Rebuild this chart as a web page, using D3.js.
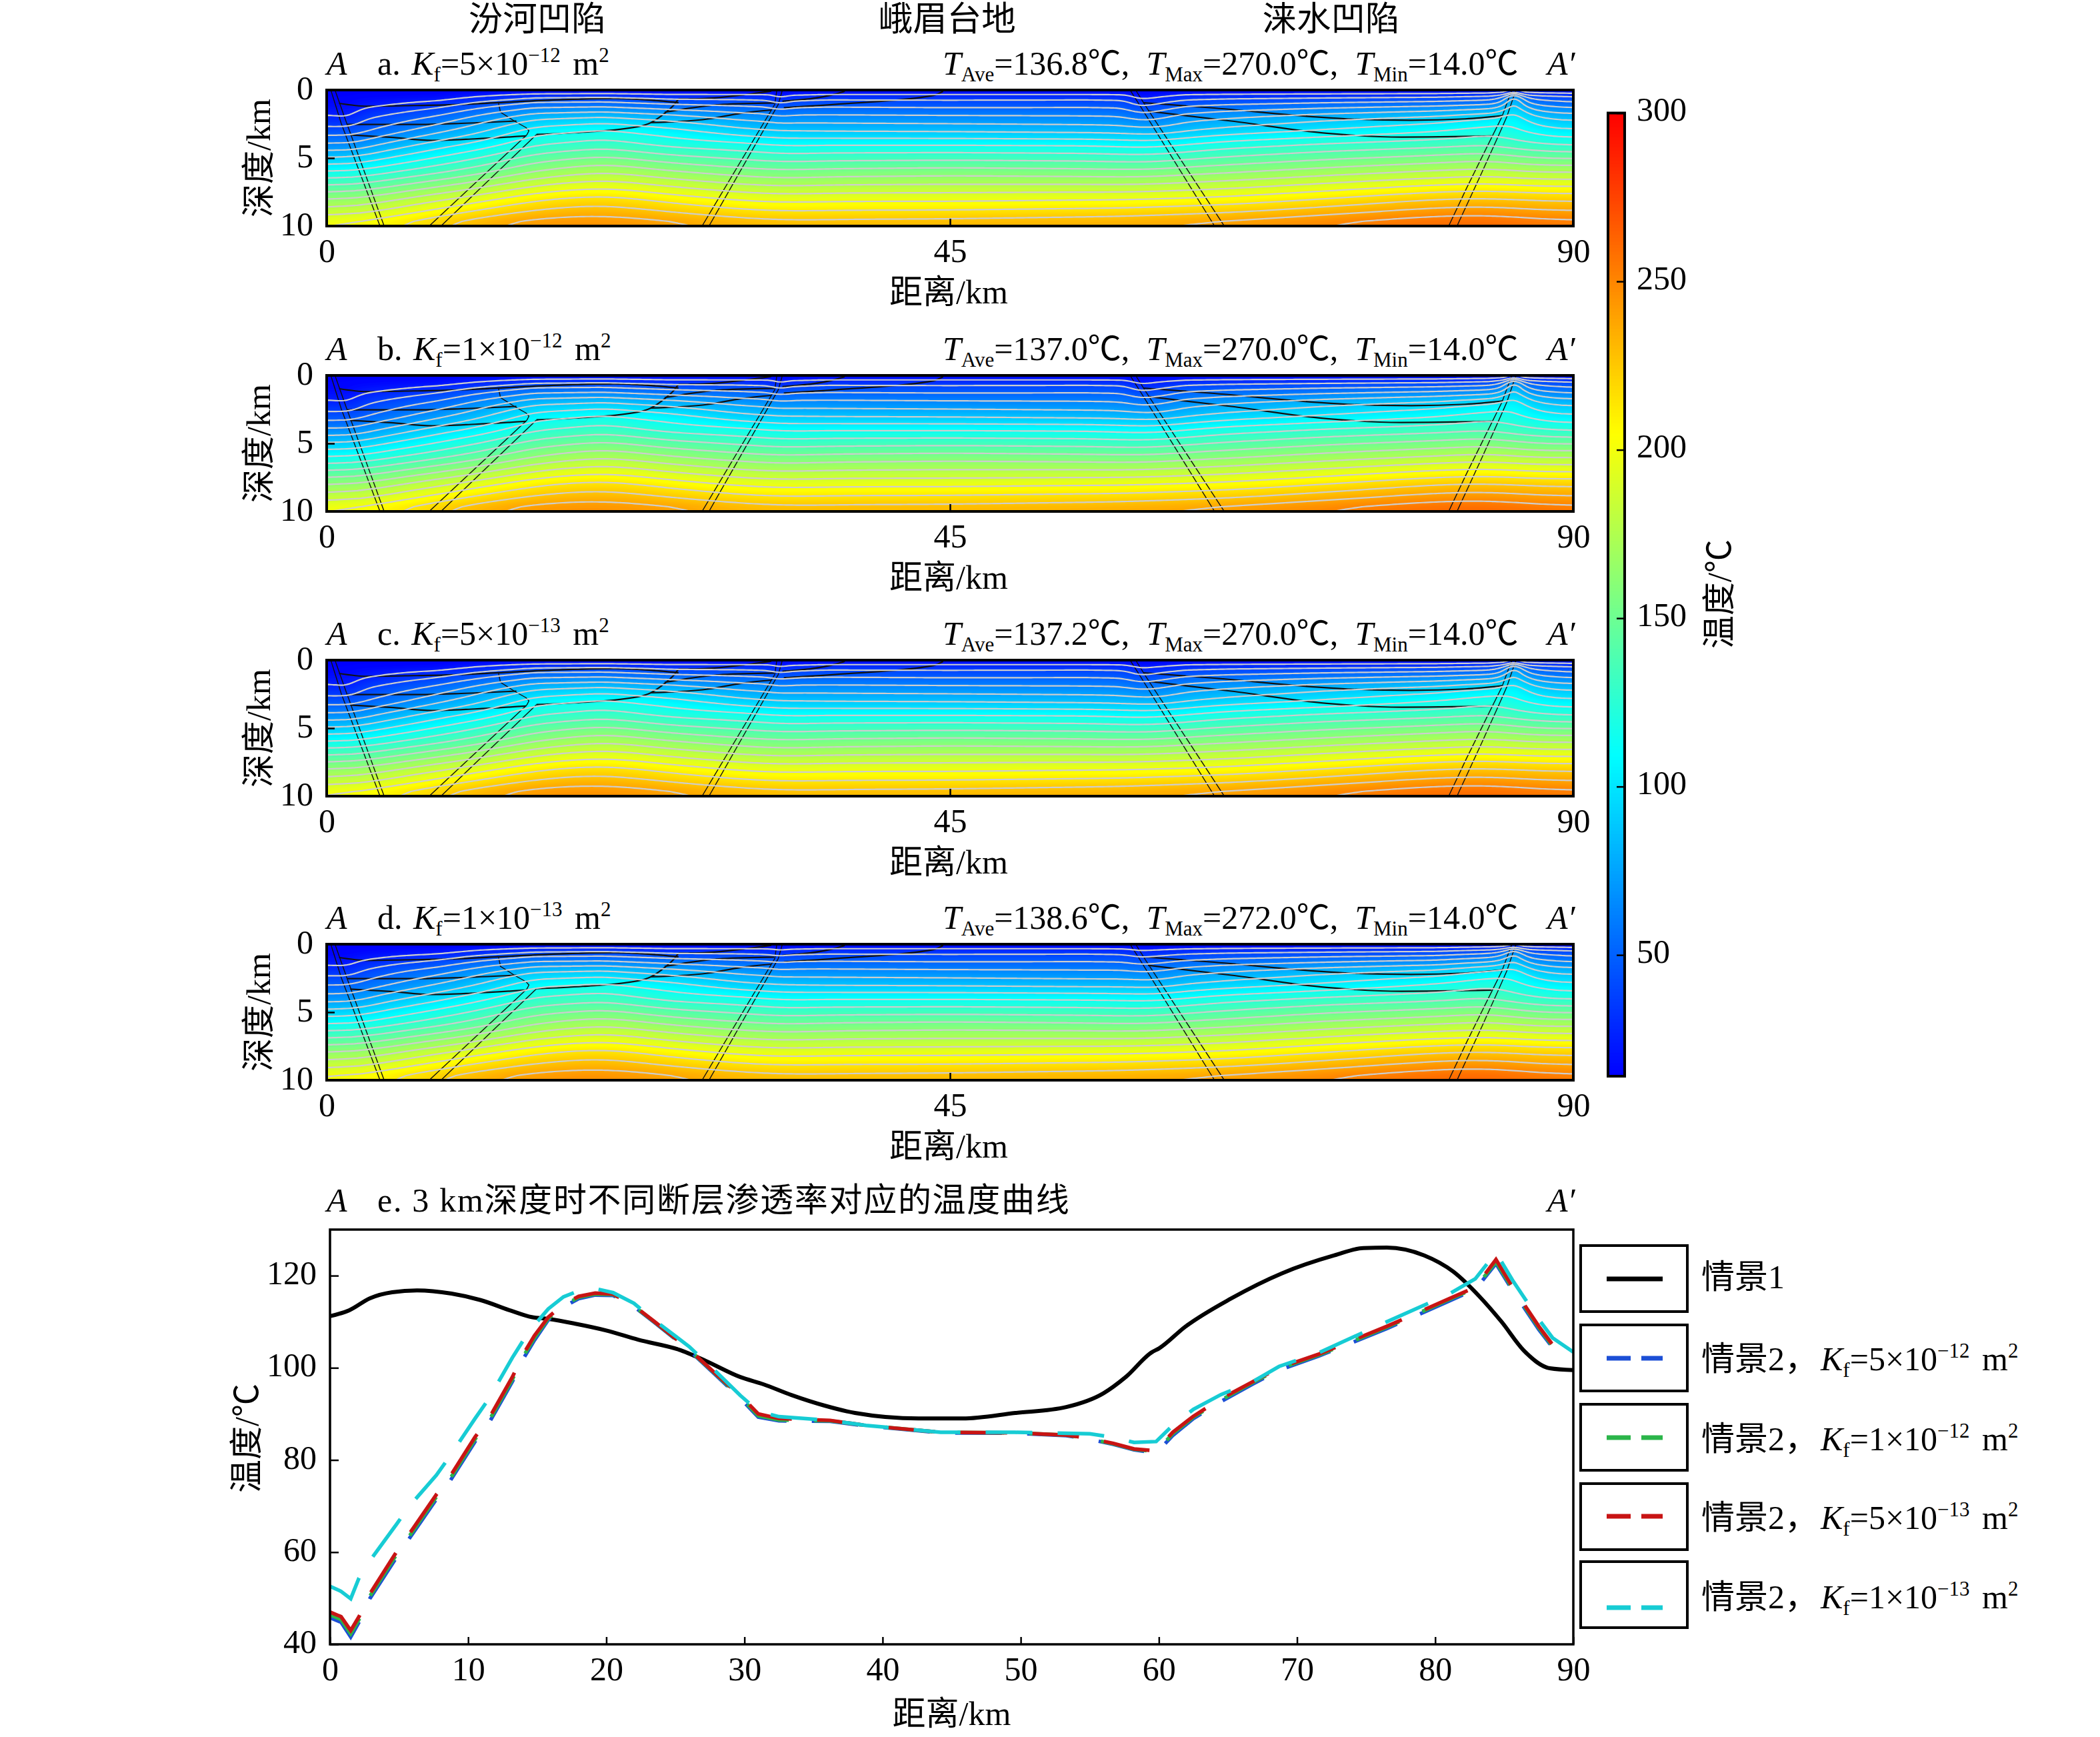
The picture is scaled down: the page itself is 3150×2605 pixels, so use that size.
<!DOCTYPE html>
<html>
<head>
<meta charset="utf-8">
<script src="https://cdn.jsdelivr.net/npm/d3@7"></script>
<style>
body { margin: 0; background: #fff; }
text { font-family: "Liberation Serif", "Noto Sans CJK SC", serif; font-size: 50px; fill: #000; white-space: pre; }
</style>
</head>
<body>
<svg id="chart" width="3150" height="2605"></svg>
<script>
// temperature grid: one line per km position, one value per depth
let kmGrid = [0, 1, 1.5, 2.5, 5, 8, 11, 15, 20, 25, 30, 32, 32.7, 33.5, 36, 45, 55, 57.5, 58.8, 60.2, 62, 65, 72, 80, 84, 85, 85.7, 86.4, 87, 88, 90];
let depthGrid = [0, 0.5, 1, 2, 3, 4, 6, 8, 10];

let fieldA = [
    [14, 15, 17, 30, 46, 70, 118, 165, 203],
    [14, 15, 16, 26, 44, 65, 114, 162, 203],
    [14, 15, 16, 24, 42, 62, 112, 161, 204],
    [14, 16, 21, 36, 49, 70, 118, 166, 208],
    [14, 17, 26, 44, 60, 82, 126, 175, 218],
    [14, 19, 32, 54, 73, 95, 136, 186, 228],
    [14, 27, 43, 68, 86, 106, 147, 196, 240],
    [14, 36, 55, 85, 108, 125, 165, 212, 250],
    [14, 38, 56, 90, 116, 133, 176, 220, 252],
    [14, 33, 50, 82, 106, 122, 165, 208, 246],
    [14, 33, 47, 72, 93, 117, 157, 199, 238],
    [14, 32, 45, 70, 90, 114, 155, 197, 236],
    [14, 24, 38, 64, 89, 112, 154, 196, 235],
    [14, 30, 44, 68, 89, 112, 154, 196, 235],
    [14, 33, 46, 68, 88, 113, 156, 198, 236],
    [14, 33, 45, 67, 87, 113, 158, 198, 237],
    [14, 33, 46, 66, 85, 112, 156, 200, 240],
    [14, 32, 45, 65, 84, 110, 155, 200, 241],
    [14, 22, 34, 58, 82, 109, 155, 201, 242],
    [14, 26, 40, 62, 82, 110, 156, 202, 243],
    [14, 32, 47, 70, 88, 114, 159, 203, 245],
    [14, 34, 50, 75, 94, 120, 162, 205, 247],
    [14, 36, 54, 84, 103, 128, 170, 214, 256],
    [14, 38, 58, 92, 113, 134, 178, 226, 266],
    [14, 42, 62, 100, 121, 138, 182, 228, 268],
    [14, 50, 70, 104, 120, 134, 180, 227, 266],
    [14, 88, 100, 112, 118, 132, 178, 226, 265],
    [14, 52, 72, 100, 113, 130, 176, 225, 263],
    [14, 46, 64, 94, 111, 129, 176, 224, 262],
    [14, 43, 59, 88, 107, 127, 176, 224, 260],
    [14, 40, 55, 84, 103, 124, 175, 222, 258]
];
let fieldB = [
    [14, 15, 17, 30, 46, 70, 118, 165, 203],
    [14, 15, 16, 27, 45, 66, 114, 162, 203],
    [14, 15, 17, 25, 42, 63, 112, 161, 204],
    [14, 16, 21, 36, 50, 71, 118, 166, 208],
    [14, 17, 26, 45, 60, 82, 126, 175, 218],
    [14, 19, 33, 54, 73, 95, 136, 186, 228],
    [14, 27, 43, 68, 86, 106, 147, 196, 240],
    [14, 36, 55, 85, 108, 125, 165, 212, 250],
    [14, 38, 56, 90, 116, 133, 176, 220, 252],
    [14, 33, 50, 82, 106, 122, 165, 208, 246],
    [14, 33, 47, 72, 93, 117, 157, 199, 238],
    [14, 32, 45, 70, 90, 114, 155, 197, 236],
    [14, 25, 39, 65, 89, 112, 154, 196, 235],
    [14, 30, 44, 68, 89, 112, 154, 196, 235],
    [14, 33, 46, 68, 88, 113, 156, 198, 236],
    [14, 33, 45, 67, 87, 113, 158, 198, 237],
    [14, 33, 46, 66, 85, 112, 156, 200, 240],
    [14, 32, 45, 65, 84, 110, 155, 200, 241],
    [14, 23, 35, 59, 82, 109, 155, 201, 242],
    [14, 27, 40, 62, 82, 110, 156, 202, 243],
    [14, 32, 47, 70, 88, 114, 159, 203, 245],
    [14, 34, 50, 75, 94, 120, 162, 205, 247],
    [14, 36, 54, 84, 103, 128, 170, 214, 256],
    [14, 38, 58, 92, 113, 134, 178, 226, 266],
    [14, 42, 62, 100, 121, 138, 182, 228, 268],
    [14, 50, 70, 104, 120, 134, 180, 227, 266],
    [14, 85, 98, 112, 118, 132, 178, 226, 265],
    [14, 52, 72, 100, 113, 130, 176, 225, 263],
    [14, 46, 64, 94, 111, 129, 176, 224, 262],
    [14, 43, 59, 88, 107, 127, 176, 224, 260],
    [14, 40, 55, 84, 103, 124, 175, 222, 258]
];
let fieldC = [
    [14, 15, 17, 31, 47, 70, 118, 165, 204],
    [14, 15, 17, 27, 45, 66, 114, 162, 204],
    [14, 15, 17, 25, 43, 63, 112, 161, 204],
    [14, 16, 21, 37, 50, 71, 118, 167, 209],
    [14, 17, 27, 45, 60, 82, 126, 175, 219],
    [14, 19, 33, 55, 73, 95, 136, 186, 229],
    [14, 27, 43, 68, 86, 106, 147, 196, 240],
    [14, 36, 55, 85, 108, 125, 165, 212, 251],
    [14, 38, 56, 90, 116, 133, 176, 220, 253],
    [14, 33, 50, 82, 106, 122, 165, 208, 246],
    [14, 33, 47, 72, 93, 117, 157, 199, 238],
    [14, 32, 45, 70, 90, 114, 155, 197, 236],
    [14, 26, 40, 65, 89, 112, 154, 196, 235],
    [14, 30, 44, 68, 89, 112, 154, 196, 235],
    [14, 33, 46, 68, 88, 113, 156, 198, 236],
    [14, 33, 45, 67, 87, 113, 158, 198, 237],
    [14, 33, 46, 66, 85, 112, 156, 200, 240],
    [14, 32, 45, 65, 84, 110, 155, 200, 241],
    [14, 24, 36, 60, 82, 109, 155, 201, 242],
    [14, 27, 41, 63, 82, 110, 156, 202, 243],
    [14, 32, 47, 70, 88, 114, 159, 203, 245],
    [14, 34, 50, 75, 94, 120, 162, 205, 247],
    [14, 36, 54, 84, 103, 128, 170, 214, 256],
    [14, 38, 58, 92, 114, 134, 178, 226, 266],
    [14, 42, 62, 100, 122, 138, 182, 228, 268],
    [14, 50, 70, 104, 120, 134, 180, 227, 266],
    [14, 82, 95, 111, 118, 132, 178, 226, 265],
    [14, 52, 72, 100, 113, 130, 176, 225, 263],
    [14, 46, 64, 94, 111, 129, 176, 224, 262],
    [14, 43, 59, 88, 107, 127, 176, 224, 260],
    [14, 40, 55, 84, 104, 124, 175, 222, 258]
];
let fieldD = [
    [14, 15, 18, 35, 52, 74, 120, 167, 206],
    [14, 15, 18, 32, 51, 70, 117, 164, 206],
    [14, 15, 18, 31, 50, 68, 115, 163, 206],
    [14, 16, 23, 40, 56, 75, 120, 168, 210],
    [14, 18, 29, 50, 66, 87, 128, 177, 220],
    [14, 20, 35, 59, 78, 98, 138, 188, 230],
    [14, 28, 45, 72, 90, 110, 149, 198, 241],
    [14, 36, 55, 88, 111, 128, 167, 213, 250],
    [14, 38, 56, 91, 117, 134, 177, 221, 253],
    [14, 33, 50, 82, 106, 122, 165, 208, 246],
    [14, 33, 47, 72, 93, 117, 157, 199, 238],
    [14, 32, 45, 70, 90, 114, 155, 197, 236],
    [14, 28, 42, 66, 90, 112, 154, 196, 235],
    [14, 31, 45, 68, 89, 112, 154, 196, 235],
    [14, 33, 46, 68, 88, 113, 156, 198, 236],
    [14, 33, 45, 67, 87, 113, 158, 198, 237],
    [14, 33, 46, 66, 85, 112, 156, 200, 240],
    [14, 32, 45, 66, 85, 111, 155, 200, 241],
    [14, 27, 40, 63, 84, 110, 155, 201, 242],
    [14, 29, 43, 65, 84, 111, 156, 202, 243],
    [14, 32, 47, 71, 90, 115, 159, 203, 245],
    [14, 34, 50, 76, 95, 121, 162, 205, 247],
    [14, 36, 54, 85, 104, 129, 171, 215, 256],
    [14, 38, 58, 93, 116, 135, 179, 227, 267],
    [14, 44, 65, 104, 124, 140, 183, 229, 270],
    [14, 50, 72, 106, 122, 135, 181, 228, 268],
    [14, 74, 90, 110, 119, 133, 179, 227, 266],
    [14, 50, 70, 100, 114, 131, 177, 225, 263],
    [14, 45, 63, 94, 112, 129, 176, 224, 262],
    [14, 43, 59, 88, 108, 127, 176, 224, 260],
    [14, 40, 55, 84, 104, 124, 175, 222, 258]
];

let panelFields = [fieldA, fieldB, fieldC, fieldD];
let panelLetters = ['a', 'b', 'c', 'd'];
let kfBase = ['5', '1', '5', '1'];
let kfExp = ['\u221212', '\u221212', '\u221213', '\u221213'];
let tAve = ['136.8', '137.0', '137.2', '138.6'];
let tMax = ['270.0', '270.0', '270.0', '272.0'];
let tMin = ['14.0', '14.0', '14.0', '14.0'];

// faults and strata, [km, depth km]
let faultLines = [
    [[0.3, 0], [1.05, 2.45], [3.85, 10]],
    [[0.6, 0], [1.45, 2.45], [4.15, 10]],
    [[14.45, 3.3], [7.4, 10]],
    [[15.15, 3.27], [8.25, 10]],
    [[12.4, 0.93], [12.55, 1.63], [13.55, 2.28], [14.4, 2.77], [14.6, 3.0], [14.45, 3.3]],
    [[32.5, 0], [32.35, 1.06], [27.1, 10]],
    [[32.9, 0], [32.6, 1.06], [27.6, 10]],
    [[58, 0], [58.76, 1.22], [64.1, 10]],
    [[58.4, 0], [59.15, 1.22], [64.8, 10]],
    [[85.6, 0], [85.5, 0.16], [84.85, 1.96], [84.17, 3.35], [82.3, 7.2], [81, 10]],
    [[85.9, 0], [85.8, 0.16], [85.2, 1.96], [84.6, 3.35], [83.4, 6.05], [81.6, 10]]
];
let strataLines = [
    [[0.9, 0.98], [2.9, 1.19], [6.3, 1.14], [9.7, 1.06], [12.4, 0.93], [16.4, 0.73], [20.8, 0.62], [23.2, 0.73], [25.4, 0.93]],
    [[25.4, 0.65], [26.6, 0.65], [30.3, 0.33], [32.1, 0.08]],
    [[1.5, 2.53], [6.3, 2.53], [9.7, 2.45], [13.7, 2.28]],
    [[1.7, 3.3], [4.6, 3.47], [7.6, 3.7], [10.7, 3.59], [14.4, 3.38]],
    [[15.15, 3.27], [18.5, 3.1], [22.5, 2.69], [23.4, 2.4], [24.4, 1.71], [25.1, 1.06], [25.4, 0.65]],
    [[24.4, 1.63], [28.6, 1.06], [32.3, 0.95]],
    [[23.4, 2.4], [27.6, 2.12], [29.9, 1.71], [32.1, 1.47]],
    [[32.9, 0.82], [36.9, 0.25], [37.4, 0.1]],
    [[33, 1.3], [37.5, 1], [43.8, 0.4], [44.5, 0.1]],
    [[58.95, 0.93], [63.75, 1.3], [73.7, 2.12], [78.3, 2.22], [82.2, 2.12], [84.9, 1.88]],
    [[59.3, 1.55], [65.3, 2.28], [72.2, 3.18], [77.6, 3.46], [84.1, 3.38]]
];

// 3 km depth curves of panel e
let kmScene1 = [0, 1.4, 2.9, 4.5, 6.3, 8.8, 10.9, 13.1, 14.6, 15.8, 17.7, 20, 22.3, 25.4, 27.2, 29.7, 31.4, 33.4, 35.8, 38, 42.6, 45.8, 49.6, 53.3, 56, 57.6, 59.5, 60, 61.9, 65.2, 68.9, 72.7, 74.8, 76.5, 79.2, 81.3, 83.2, 84.8, 86.4, 88.3, 90];
let tempScene1 = [111.2, 112.5, 115.1, 116.4, 116.8, 116.1, 114.7, 112.4, 111, 110.6, 109.6, 108.1, 106.1, 103.8, 101.5, 98, 96.4, 94.1, 91.8, 90.2, 89, 89, 90.2, 91.5, 94.5, 98, 103.4, 104.2, 108.9, 115, 120.5, 124.4, 126, 126.1, 124.4, 120.9, 115.5, 110, 103.8, 99.9, 99.5];

let kmScene2 = [0, 0.8, 1.5, 2.1, 2.9, 4.8, 5.75, 7.7, 8.6, 10.5, 11.5, 13.2, 14, 14.8, 15.8, 16.9, 18, 19.2, 20.5, 22, 23.5, 26, 28, 29.7, 31, 32.5, 36.2, 38.8, 44.2, 49.6, 53.3, 55, 56.7, 58.2, 59.8, 61, 62.5, 64.5, 66.8, 68.7, 71.6, 76.5, 81, 82.9, 84.4, 85.6, 87.5, 88.5, 90];
let tempKf5e12 = [45.8, 44.8, 41.6, 44.8, 50, 58.8, 63, 71.5, 75, 84, 88, 97, 102, 106, 110.4, 113.2, 115, 115.8, 115.7, 113.3, 109.8, 103.8, 98.2, 93.4, 89.3, 88.5, 88.4, 87.4, 85.9, 85.8, 85.3, 84.5, 83.4, 82.2, 81.5, 85.3, 89, 92.7, 96.5, 99.5, 102.6, 108.5, 114.5, 117, 122.6, 116.8, 108.3, 104.4, 103];
let tempKf1e12 = [46.4, 45.4, 42.3, 45.4, 50.5, 59.4, 63.5, 72, 75.5, 84.5, 88.5, 97.5, 102.5, 106.5, 110.7, 113.5, 115.3, 116, 115.9, 113.4, 109.9, 103.9, 98.4, 93.7, 89.6, 88.7, 88.5, 87.5, 86, 85.9, 85.4, 84.6, 83.5, 82.3, 81.8, 85.7, 89.3, 93, 96.8, 99.8, 102.8, 108.8, 114.8, 117.3, 123, 117.2, 108.7, 104.7, 103.4];
let tempKf5e13 = [47, 46, 43, 46, 51, 60, 64, 72.5, 76, 85, 89, 98, 103, 107, 111, 113.8, 115.5, 116.2, 116, 113.5, 110, 104, 98.5, 94, 90, 89, 88.6, 87.5, 86, 85.9, 85.4, 84.7, 83.6, 82.4, 82, 86, 89.5, 93.3, 97, 100, 103, 109, 115, 117.5, 123.5, 117.5, 109, 105, 103.8];
let tempKf1e13 = [52.6, 51.5, 49.9, 54.4, 58.2, 66, 70, 76.7, 80.5, 89, 93.3, 102.2, 106, 109.3, 112.8, 115.4, 116.7, 117.2, 116.3, 114, 110.3, 104.6, 99, 94, 90.6, 89.4, 88.6, 87.5, 86, 86, 85.8, 85.7, 84.9, 83.8, 84, 87.5, 91, 94.2, 97, 100.3, 103.3, 110, 116, 119.3, 125, 119, 110.5, 106.5, 103.4];

let scene2Series = [tempKf5e12, tempKf1e12, tempKf5e13, tempKf1e13];
let scene2Colors = ['#1c4fd6', '#2bb54a', '#c81414', '#17ccd4'];

let regionNames = ['汾河凹陷', '峨眉台地', '涞水凹陷'];
let regionKm = [15.2, 44.8, 72.5];
let colorTicks = [50, 100, 150, 200, 250, 300];
let tempTicks = [40, 60, 80, 100, 120];
let distTicks = [0, 10, 20, 30, 40, 50, 60, 70, 80, 90];

let svg = d3.select('#chart');
let panelLeft = 490, panelRight = 2360, panelH = 204;
let panelTops = [135, 563, 990, 1416];

let tempColor = d3.scaleLinear()
    .domain([14, 109.3, 204.7, 300])
    .range(['#0000ff', '#00ffff', '#ffff00', '#ff0000']);

// mixed text with italics, sub and superscripts, third item is an extra gap
function richText(parent, x, y, parts, anchor) {
    let t = parent.append('text').attr('x', x).attr('y', y).attr('text-anchor', anchor || 'start');
    let shift = 0;
    parts.forEach(function (p) {
        let style = p[1] || '';
        let target = style === 'sub' ? 10 : style === 'sup' ? -19 : 0;
        let ts = t.append('tspan').text(p[0]).attr('dy', target - shift).attr('dx', p[2] || 0);
        shift = target;
        if (style === 'i') ts.style('font-style', 'italic');
        if (style === 'sub' || style === 'sup') ts.style('font-size', '31px');
    });
    return t;
}

function kfParts(base, exp) {
    return [['K', 'i', 4], ['f', 'sub'], ['=' + base + '×10'], [exp, 'sup'], [' m', '', 6], ['2', 'sup']];
}

// upsample the read grid, softer with depth where the isotherms run smooth
function buildField(field, nx, ny) {
    let rows = depthGrid.map(function (d, r) {
        return d3.scaleLinear().domain(kmGrid).range(field.map(function (c) { return c[r]; }));
    });
    let values = new Float64Array(nx * ny);
    for (let i = 0; i < nx; i++) {
        let km = (i + 0.5) / nx * 90;
        let col = d3.scaleLinear().domain(depthGrid).range(rows.map(function (s) { return s(km); }));
        for (let j = 0; j < ny; j++) {
            values[j * nx + i] = col((j + 0.5) / ny * 10);
        }
    }
    return boxBlur(boxBlur(values, nx, ny), nx, ny);
}

function boxBlur(src, nx, ny) {
    let tmp = new Float64Array(src.length), out = new Float64Array(src.length);
    for (let j = 0; j < ny; j++) {
        let rx = 1 + Math.round(12 * j / ny);
        for (let i = 0; i < nx; i++) {
            let sum = 0, n = 0;
            for (let k = Math.max(0, i - rx); k <= Math.min(nx - 1, i + rx); k++) { sum += src[j * nx + k]; n++; }
            tmp[j * nx + i] = sum / n;
        }
    }
    for (let i = 0; i < nx; i++) {
        for (let j = 0; j < ny; j++) {
            let ry = j < 10 ? 1 : 3;
            let sum = 0, n = 0;
            for (let k = Math.max(0, j - ry); k <= Math.min(ny - 1, j + ry); k++) { sum += tmp[k * nx + i]; n++; }
            out[j * nx + i] = sum / n;
        }
    }
    return out;
}

/** Sections a-d **/
let xSection = d3.scaleLinear().domain([0, 90]).range([0, panelRight - panelLeft]);
let ySection = d3.scaleLinear().domain([0, 10]).range([0, panelH]);
let nx = 468, ny = 102;

let gridPath = d3.geoPath(d3.geoTransform({
    point: function (x, y) {
        this.stream.point(x * (panelRight - panelLeft) / nx, y * panelH / ny);
    }
}));
let geoLine = d3.line()
    .x(function (d) { return xSection(d[0]); })
    .y(function (d) { return ySection(d[1]); });

panelFields.forEach(function (field, idx) {
    let g = svg.append('g').attr('transform', 'translate(' + panelLeft + ',' + panelTops[idx] + ')');
    let clipId = 'clip' + idx;
    g.append('clipPath').attr('id', clipId).append('rect')
        .attr('width', panelRight - panelLeft).attr('height', panelH);

    let values = buildField(field, nx, ny);
    let body = g.append('g').attr('clip-path', 'url(#' + clipId + ')');
    body.append('rect').attr('width', panelRight - panelLeft).attr('height', panelH).attr('fill', tempColor(14));

    let bands = d3.contours().size([nx, ny]).thresholds(d3.range(15, 300, 2))(values);
    body.selectAll('.band').data(bands).enter().append('path')
        .attr('class', 'band')
        .attr('d', gridPath)
        .attr('fill', function (d) { return tempColor(d.value); });

    body.selectAll('.fault').data(faultLines).enter().append('path')
        .attr('class', 'fault').attr('d', geoLine)
        .attr('fill', 'none').attr('stroke', '#111').attr('stroke-width', 1.4);
    body.selectAll('.strata').data(strataLines).enter().append('path')
        .attr('class', 'strata').attr('d', geoLine.curve(d3.curveMonotoneX))
        .attr('fill', 'none').attr('stroke', '#111').attr('stroke-width', 2.2);
    geoLine.curve(d3.curveLinear);

    let iso = d3.contours().size([nx, ny]).thresholds(d3.range(26.5, 290, 12.5))(values);
    body.selectAll('.iso').data(iso).enter().append('path')
        .attr('class', 'iso')
        .attr('d', gridPath)
        .attr('fill', 'none')
        .attr('stroke', '#cdcdcd')
        .attr('stroke-width', 2.2);

    g.append('rect').attr('width', panelRight - panelLeft).attr('height', panelH)
        .attr('fill', 'none').attr('stroke', '#000').attr('stroke-width', 4);

    let xAxis = d3.axisBottom(xSection).tickValues([0, 45, 90]).tickSize(-11).tickPadding(18.5).tickFormat(d3.format('d'));
    let yAxis = d3.axisLeft(ySection).tickValues([0, 5, 10]).tickSize(-12).tickPadding(20).tickFormat(d3.format('d'));
    let gx = g.append('g').attr('transform', 'translate(0,' + panelH + ')').call(xAxis);
    let gy = g.append('g').call(yAxis);
    gy.selectAll('text').attr('dy', '.27em');
    [gx, gy].forEach(function (a) {
        a.select('.domain').remove();
        a.selectAll('line').attr('stroke', '#000').attr('stroke-width', 2.5);
        a.attr('font-family', null).attr('font-size', null);
    });

    g.append('text').attr('x', (panelRight - panelLeft) / 2 - 2).attr('y', 320).attr('text-anchor', 'middle').text('距离/km');
    g.append('text').attr('transform', 'translate(-85,' + (panelH / 2) + ') rotate(-90)')
        .attr('text-anchor', 'middle').text('深度/km');

    richText(g, 0, -23, [['A', 'i']]);
    richText(g, 76, -23, [[panelLetters[idx] + '. ']].concat(kfParts(kfBase[idx], kfExp[idx])));
    richText(g, 924, -23, [
        ['T', 'i'], ['Ave', 'sub'], ['=' + tAve[idx] + '℃,  '],
        ['T', 'i'], ['Max', 'sub'], ['=' + tMax[idx] + '℃,  '],
        ['T', 'i'], ['Min', 'sub'], ['=' + tMin[idx] + '℃']
    ]);
    richText(g, 1831, -23, [['A′', 'i']]);
});

svg.selectAll('.region').data(regionNames).enter().append('text')
    .attr('class', 'region')
    .attr('x', function (d, i) { return panelLeft + xSection(regionKm[i]); })
    .attr('y', 46)
    .attr('text-anchor', 'middle')
    .style('font-size', '51.5px')
    .text(function (d) { return d; });

/** Colour bar **/
let barLeft = 2412, barWidth = 25, barTop = 169.5, barBottom = 1614;
let yBar = d3.scaleLinear().domain([14, 300]).range([barBottom, barTop]);
let bar = svg.append('g').attr('transform', 'translate(' + barLeft + ',0)');
bar.selectAll('.step').data(d3.range(14, 300, 1)).enter().append('rect')
    .attr('class', 'step')
    .attr('y', function (d) { return yBar(d + 1) - 0.5; })
    .attr('width', barWidth)
    .attr('height', yBar(14) - yBar(15) + 1)
    .attr('fill', function (d) { return tempColor(d + 0.5); });
bar.append('rect').attr('y', barTop).attr('width', barWidth).attr('height', barBottom - barTop)
    .attr('fill', 'none').attr('stroke', '#000').attr('stroke-width', 4);
let barAxis = bar.append('g').attr('transform', 'translate(' + barWidth + ',0)')
    .call(d3.axisRight(yBar).tickValues(colorTicks).tickSize(-12).tickPadding(18));
barAxis.select('.domain').remove();
barAxis.selectAll('line').attr('stroke', '#000').attr('stroke-width', 2.5);
barAxis.selectAll('text').attr('dy', '.22em');
barAxis.attr('font-family', null).attr('font-size', null);
svg.append('text').attr('transform', 'translate(2596,891) rotate(-90)').attr('text-anchor', 'middle').text('温度/℃');

/** Panel e **/
let eLeft = 495, eTop = 1844, eBottom = 2466;
let xTemp = d3.scaleLinear().domain([0, 90]).range([0, panelRight - eLeft]);
let yTemp = d3.scaleLinear().domain([40, 130]).range([eBottom - eTop, 0]);
let e = svg.append('g').attr('transform', 'translate(' + eLeft + ',' + eTop + ')');

let tempLine = d3.line()
    .x(function (d) { return xTemp(d[0]); })
    .y(function (d) { return yTemp(d[1]); });

e.append('path').datum(d3.zip(kmScene1, tempScene1))
    .attr('d', tempLine.curve(d3.curveMonotoneX)).attr('fill', 'none').attr('stroke', '#000').attr('stroke-width', 6);
tempLine.curve(d3.curveLinear);
scene2Series.forEach(function (series, i) {
    e.append('path').datum(d3.zip(kmScene2, series))
        .attr('d', tempLine).attr('fill', 'none')
        .attr('stroke', scene2Colors[i]).attr('stroke-width', 5.5)
        .attr('stroke-dasharray', '70,38');
});

e.append('rect').attr('width', panelRight - eLeft).attr('height', eBottom - eTop)
    .attr('fill', 'none').attr('stroke', '#000').attr('stroke-width', 3.5);
let exAxis = e.append('g').attr('transform', 'translate(0,' + (eBottom - eTop) + ')')
    .call(d3.axisBottom(xTemp).tickValues(distTicks).tickSize(-11).tickPadding(18.5));
let eyAxis = e.append('g')
    .call(d3.axisLeft(yTemp).tickValues(tempTicks).tickSize(-13).tickPadding(20));
eyAxis.selectAll('text').attr('dy', '.25em');
[exAxis, eyAxis].forEach(function (a) {
    a.select('.domain').remove();
    a.selectAll('line').attr('stroke', '#000').attr('stroke-width', 2.5);
    a.attr('font-family', null).attr('font-size', null);
});
e.append('text').attr('x', (panelRight - eLeft) / 2).attr('y', 743).attr('text-anchor', 'middle').text('距离/km');
e.append('text').attr('transform', 'translate(-108,313) rotate(-90)').attr('text-anchor', 'middle').text('温度/℃');

richText(svg, 490, 1817, [['A', 'i']]);
richText(svg, 566, 1817, [['e. 3 km深度时不同断层渗透率对应的温度曲线']]).style('letter-spacing', '1.7px');
richText(svg, 2321, 1817, [['A′', 'i']]);

/** Legend **/
let legendTops = [1868, 1987, 2106, 2225, 2342];
let legendLineY = [50, 50, 50, 49, 69];
let legendBase = [64, 68, 69, 68, 70];
let legendColors = ['#000'].concat(scene2Colors);
let legendText = [
    [['情景1']],
    [['情景2，']].concat(kfParts('5', '\u221212')),
    [['情景2，']].concat(kfParts('1', '\u221212')),
    [['情景2，']].concat(kfParts('5', '\u221213')),
    [['情景2，']].concat(kfParts('1', '\u221213'))
];
legendTops.forEach(function (top, i) {
    let g = svg.append('g').attr('transform', 'translate(2371,' + top + ')');
    g.append('rect').attr('width', 160).attr('height', 99)
        .attr('fill', '#fff').attr('stroke', '#000').attr('stroke-width', 4);
    g.append('line').attr('x1', 39).attr('x2', 123)
        .attr('y1', legendLineY[i]).attr('y2', legendLineY[i])
        .attr('stroke', legendColors[i]).attr('stroke-width', 7)
        .attr('stroke-dasharray', i === 0 ? null : '36,16');
    richText(g, 181, legendBase[i], legendText[i]);
});
</script>
</body>
</html>
